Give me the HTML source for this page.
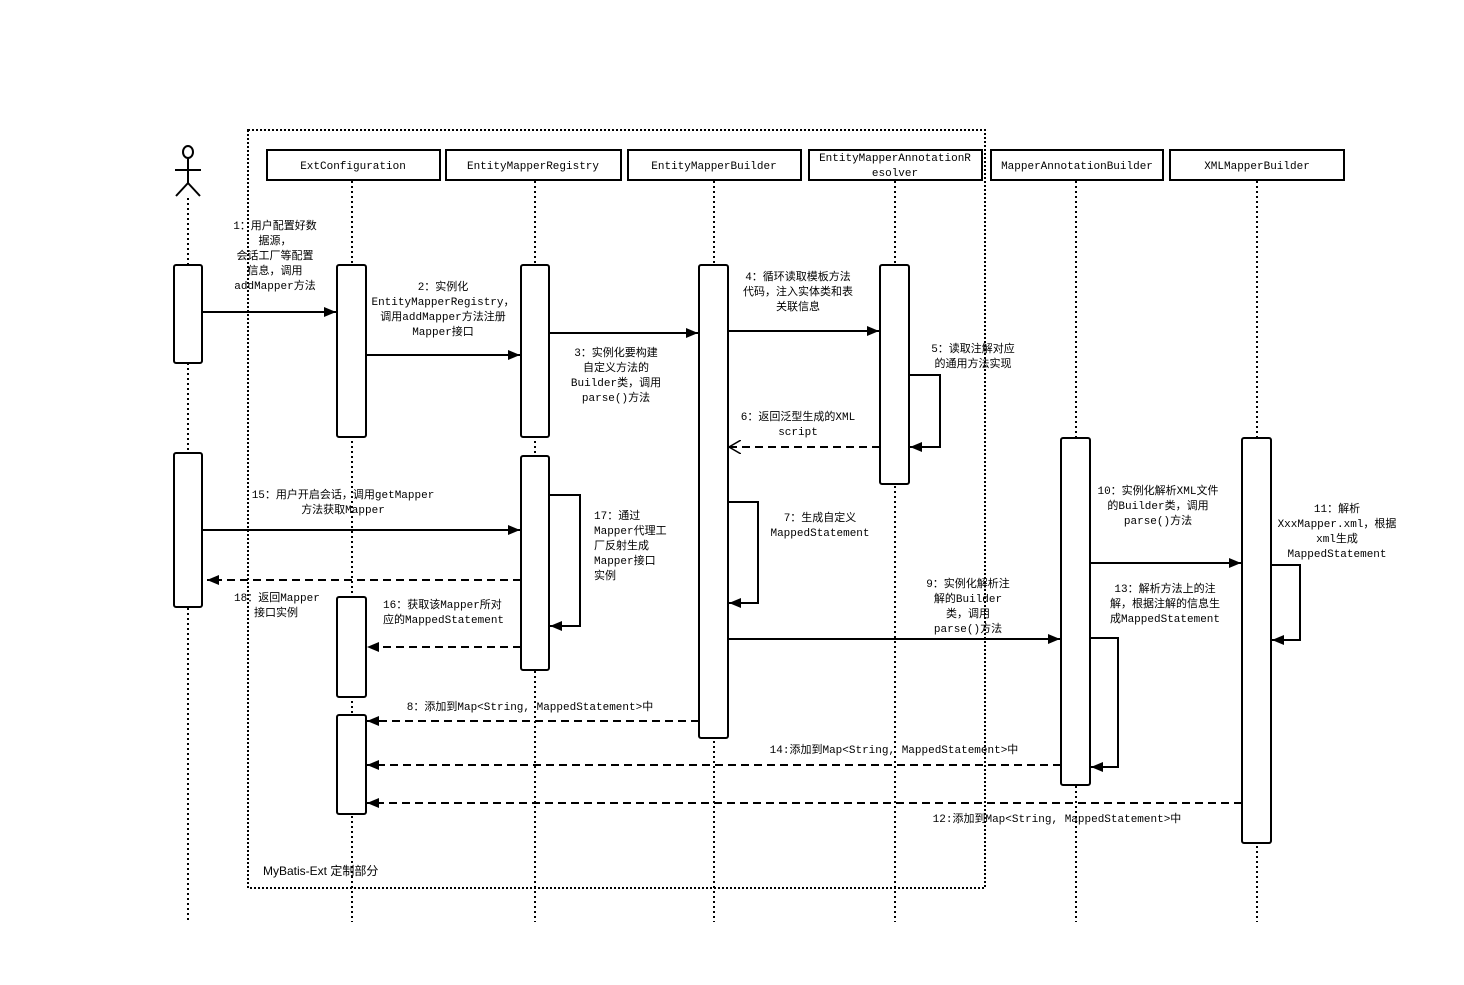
<!DOCTYPE html>
<html><head><meta charset="utf-8"><style>
html,body{margin:0;padding:0;background:#fff;}
svg{display:block;}
text{font-family:"Liberation Mono","Noto Sans CJK SC",monospace;font-size:11px;fill:#000;dominant-baseline:middle;}
</style></head><body>
<svg width="1464" height="985" viewBox="0 0 1464 985" xmlns="http://www.w3.org/2000/svg">
<defs>
<marker id="f" markerWidth="12" markerHeight="10" refX="12" refY="5" orient="auto" markerUnits="userSpaceOnUse"><path d="M0,0 L12,5 L0,10 z" fill="#000"/></marker>
<marker id="o" markerWidth="12" markerHeight="14" refX="12" refY="7" orient="auto" markerUnits="userSpaceOnUse"><path d="M0,0 L12,7 L0,14" fill="none" stroke="#000" stroke-width="1.5"/></marker>
</defs>
<rect x="248" y="130" width="737" height="758" fill="none" stroke="#000" stroke-width="2" stroke-dasharray="2,2"/>
<g stroke="#000" stroke-width="2" stroke-dasharray="2,3">
<line x1="188" y1="198" x2="188" y2="922"/>
<line x1="352" y1="181" x2="352" y2="922"/>
<line x1="535" y1="181" x2="535" y2="922"/>
<line x1="714" y1="181" x2="714" y2="922"/>
<line x1="895" y1="181" x2="895" y2="922"/>
<line x1="1076" y1="181" x2="1076" y2="922"/>
<line x1="1257" y1="181" x2="1257" y2="922"/>
</g>
<g stroke="#000" stroke-width="2" fill="#fff">
<ellipse cx="188" cy="152" rx="5" ry="6"/>
<line x1="188" y1="158" x2="188" y2="183"/>
<line x1="175" y1="170" x2="201" y2="170"/>
<line x1="188" y1="183" x2="176" y2="196"/>
<line x1="188" y1="183" x2="200" y2="196"/>
</g>
<g fill="#fff" stroke="#000" stroke-width="2">
<rect x="267" y="150" width="173" height="30"/>
<rect x="446" y="150" width="175" height="30"/>
<rect x="628" y="150" width="173" height="30"/>
<rect x="809" y="150" width="173" height="30"/>
<rect x="991" y="150" width="172" height="30"/>
<rect x="1170" y="150" width="174" height="30"/>
</g>
<g text-anchor="middle">
<text x="353" y="166">ExtConfiguration</text>
<text x="533" y="166">EntityMapperRegistry</text>
<text x="714" y="166">EntityMapperBuilder</text>
<text x="895" y="158">EntityMapperAnnotationR</text>
<text x="895" y="173">esolver</text>
<text x="1077" y="166">MapperAnnotationBuilder</text>
<text x="1257" y="166">XMLMapperBuilder</text>
</g>
<g fill="#fff" stroke="#000" stroke-width="2">
<rect x="174" y="265" width="28" height="98" rx="2"/>
<rect x="174" y="453" width="28" height="154" rx="2"/>
<rect x="337" y="265" width="29" height="172" rx="2"/>
<rect x="337" y="597" width="29" height="100" rx="2"/>
<rect x="337" y="715" width="29" height="99" rx="2"/>
<rect x="521" y="265" width="28" height="172" rx="2"/>
<rect x="521" y="456" width="28" height="214" rx="2"/>
<rect x="699" y="265" width="29" height="473" rx="2"/>
<rect x="880" y="265" width="29" height="219" rx="2"/>
<rect x="1061" y="438" width="29" height="347" rx="2"/>
<rect x="1242" y="438" width="29" height="405" rx="2"/>
</g>
<g stroke="#000" stroke-width="2" fill="none" marker-end="url(#f)">
<line x1="202" y1="312" x2="336" y2="312"/>
<line x1="366" y1="355" x2="520" y2="355"/>
<line x1="549" y1="333" x2="698" y2="333"/>
<line x1="728" y1="331" x2="879" y2="331"/>
<polyline points="909,375 940,375 940,447 910,447"/>
<polyline points="728,502 758,502 758,603 729,603"/>
<line x1="728" y1="639" x2="1060" y2="639"/>
<line x1="1090" y1="563" x2="1241" y2="563"/>
<polyline points="1271,565 1300,565 1300,640 1272,640"/>
<polyline points="1090,638 1118,638 1118,767 1091,767"/>
<line x1="202" y1="530" x2="520" y2="530"/>
<polyline points="549,495 580,495 580,626 550,626"/>
</g>
<g stroke="#000" stroke-width="2" fill="none" stroke-dasharray="8,5">
<line x1="880" y1="447" x2="729" y2="447" marker-end="url(#o)"/>
<line x1="699" y1="721" x2="367" y2="721" marker-end="url(#f)"/>
<line x1="1061" y1="765" x2="367" y2="765" marker-end="url(#f)"/>
<line x1="1242" y1="803" x2="367" y2="803" marker-end="url(#f)"/>
<line x1="521" y1="580" x2="207" y2="580" marker-end="url(#f)"/>
<line x1="521" y1="647" x2="367" y2="647" marker-end="url(#f)"/>
</g>
<g text-anchor="middle">
<text x="275" y="226">1：用户配置好数</text>
<text x="275" y="241">据源，</text>
<text x="275" y="256">会话工厂等配置</text>
<text x="275" y="271">信息，调用</text>
<text x="275" y="286">addMapper方法</text>
<text x="443" y="287">2：实例化</text>
<text x="443" y="302">EntityMapperRegistry，</text>
<text x="443" y="317">调用addMapper方法注册</text>
<text x="443" y="332">Mapper接口</text>
<text x="616" y="353">3：实例化要构建</text>
<text x="616" y="368">自定义方法的</text>
<text x="616" y="383">Builder类，调用</text>
<text x="616" y="398">parse()方法</text>
<text x="798" y="277">4：循环读取模板方法</text>
<text x="798" y="292">代码，注入实体类和表</text>
<text x="798" y="307">关联信息</text>
<text x="973" y="349">5：读取注解对应</text>
<text x="973" y="364">的通用方法实现</text>
<text x="798" y="417">6：返回泛型生成的XML</text>
<text x="798" y="432">script</text>
<text x="820" y="518">7：生成自定义</text>
<text x="820" y="533">MappedStatement</text>
<text x="530" y="707">8：添加到Map&lt;String, MappedStatement&gt;中</text>
<text x="968" y="584">9：实例化解析注</text>
<text x="968" y="599">解的Builder</text>
<text x="968" y="614">类，调用</text>
<text x="968" y="629">parse()方法</text>
<text x="1158" y="491">10：实例化解析XML文件</text>
<text x="1158" y="506">的Builder类，调用</text>
<text x="1158" y="521">parse()方法</text>
<text x="1337" y="509">11：解析</text>
<text x="1337" y="524">XxxMapper.xml，根据</text>
<text x="1337" y="539">xml生成</text>
<text x="1337" y="554">MappedStatement</text>
<text x="1057" y="819">12:添加到Map&lt;String, MappedStatement&gt;中</text>
<text x="1165" y="589">13：解析方法上的注</text>
<text x="1165" y="604">解，根据注解的信息生</text>
<text x="1165" y="619">成MappedStatement</text>
<text x="894" y="750">14:添加到Map&lt;String, MappedStatement&gt;中</text>
<text x="343" y="495">15：用户开启会话，调用getMapper</text>
<text x="343" y="510">方法获取Mapper</text>
</g>
<g text-anchor="start">
<text x="383" y="605">16：获取该Mapper所对</text>
<text x="383" y="620">应的MappedStatement</text>
<text x="594" y="516">17：通过</text>
<text x="594" y="531">Mapper代理工</text>
<text x="594" y="546">厂反射生成</text>
<text x="594" y="561">Mapper接口</text>
<text x="594" y="576">实例</text>
<text x="234" y="598">18：返回Mapper</text>
<text x="254" y="613">接口实例</text>
<text x="263" y="872" style="font-family:'Liberation Sans','Noto Sans CJK SC',sans-serif;font-size:12px;">MyBatis-Ext 定制部分</text>
</g>
</svg>
</body></html>
